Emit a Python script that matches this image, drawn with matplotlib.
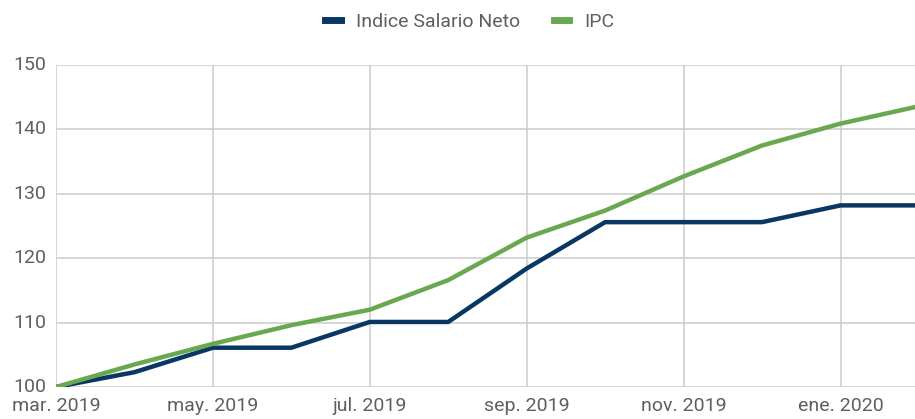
import matplotlib
matplotlib.use("Agg")
import matplotlib.pyplot as plt
from matplotlib.lines import Line2D

months = ["mar. 2019", "abr. 2019", "may. 2019", "jun. 2019", "jul. 2019", "ago. 2019",
          "sep. 2019", "oct. 2019", "nov. 2019", "dic. 2019", "ene. 2020", "feb. 2020"]
salario = [100, 102.3, 106.1, 106.1, 110.1, 110.1, 118.4, 125.6, 125.6, 125.6, 128.2, 128.2]
ipc = [100, 103.5, 106.7, 109.6, 112.0, 116.6, 123.2, 127.4, 132.7, 137.5, 140.9, 143.6]
yticks = [100, 110, 120, 130, 140, 150]

navy = "#083763"
green = "#6aa84f"
grid_c = "#cccccc"
text_c = "#5f5f5f"

plt.rcParams['font.family'] = ['Roboto', 'DejaVu Sans']

W, H = 915, 419
fig = plt.figure(figsize=(W / 100, H / 100), dpi=100)
left, right = 56, 915
top, bottom = 65, 387
ax = fig.add_axes([left / W, 1 - bottom / H, (right - left) / W, (bottom - top) / H])

x = list(range(len(months)))
ax.plot(x, salario, color=navy, lw=3.2, solid_joinstyle='round', zorder=3)
ax.plot(x, ipc, color=green, lw=3.2, solid_joinstyle='round', zorder=3)

span = (right - left) / 78.45
ax.set_xlim(0, span)
ax.set_ylim(100, 150)
ax.set_yticks(yticks)
ax.set_yticklabels([str(v) for v in yticks])
ax.set_xticks(x[::2])
ax.set_xticklabels(months[::2])
ax.grid(True, color=grid_c, lw=1.1)
ax.set_axisbelow(True)
for s in ax.spines.values():
    s.set_visible(False)
ax.tick_params(length=0, colors=text_c, labelsize=14)
ax.tick_params(axis='y', pad=7)
ax.tick_params(axis='x', pad=7)
for lbl in ax.get_yticklabels():
    lbl.set_verticalalignment('center')

handles = [Line2D([], [], color=navy, lw=5), Line2D([], [], color=green, lw=5)]
fig.legend(handles, ["Indice Salario Neto", "IPC"], loc='center', bbox_to_anchor=(470 / W, 1 - 22 / H),
           ncol=2, frameon=False, fontsize=14, labelcolor=text_c, handlelength=0.8,
           handletextpad=0.8, columnspacing=1.7)

fig.savefig("out.png", dpi=100)
